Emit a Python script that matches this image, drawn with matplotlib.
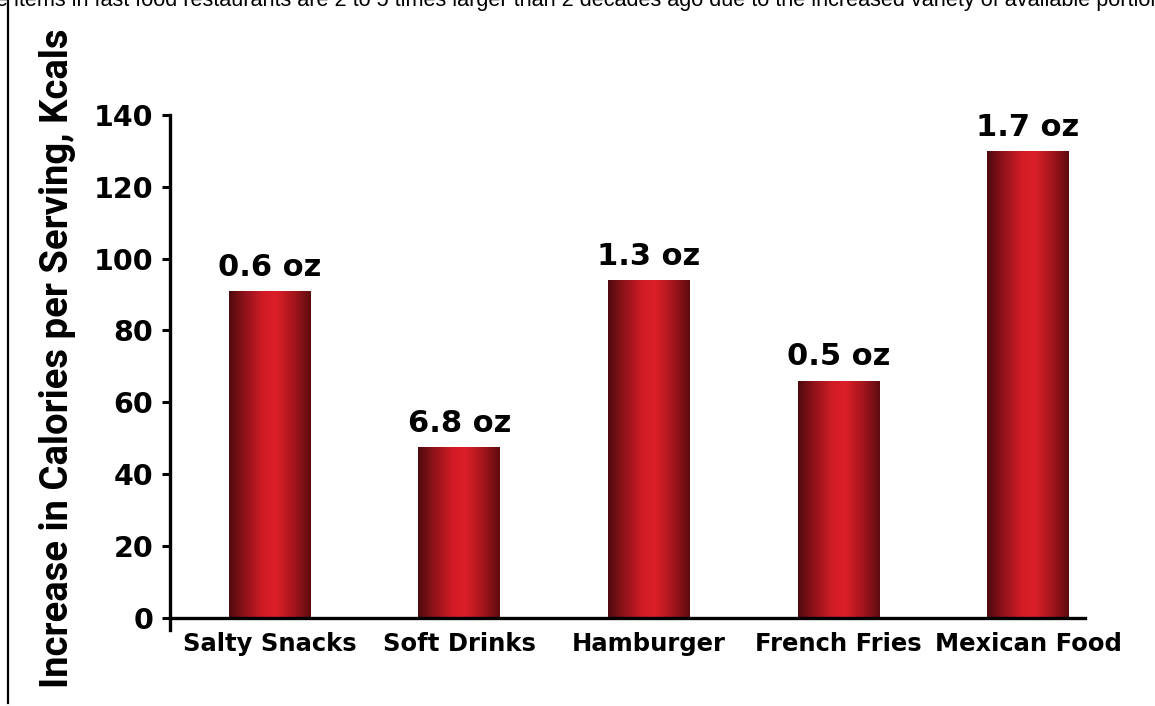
import matplotlib
matplotlib.use("Agg")
import matplotlib.pyplot as plt
import numpy as np
from matplotlib.colors import LinearSegmentedColormap
from matplotlib.lines import Line2D

categories = ["Salty Snacks", "Soft Drinks", "Hamburger", "French Fries", "Mexican Food"]
kcal_increase = [91, 47.5, 94, 66, 130]
portion_labels = ["0.6 oz", "6.8 oz", "1.3 oz", "0.5 oz", "1.7 oz"]
y_ticks = [0, 20, 40, 60, 80, 100, 120, 140]
y_label = "Increase in Calories per Serving, Kcals"
top_text = ("e items in fast food restaurants are 2 to 5 times larger than 2 decades ago "
            "due to the increased variety of available portion")

W, H = 1155, 706
fig = plt.figure(figsize=(W / 100, H / 100), dpi=100)
fig.patch.set_facecolor("white")

heavy_family = ["DejaVu Sans"]

ax = fig.add_axes([170 / W, 1 - 630 / H, (1085 - 170) / W, (630 - 115) / H])
ax.spines["top"].set_visible(False)
ax.spines["right"].set_visible(False)
ax.spines["left"].set_linewidth(2.4)
ax.spines["bottom"].set_linewidth(2.4)
ax.spines["bottom"].set_position(("data", 0))
ax.set_facecolor("white")

x = np.arange(len(categories))
bars = ax.bar(x, kcal_increase, width=0.43, color="none", edgecolor="none", zorder=2)

grad = LinearSegmentedColormap.from_list(
    "barred",
    [(0.0, "#4e0a0e"), (0.18, "#8c1219"), (0.42, "#d11c25"),
     (0.58, "#dc1f28"), (0.80, "#a3151c"), (1.0, "#5e0c10")])
g = np.linspace(0, 1, 256).reshape(1, -1)
for b in bars:
    x0, y0 = b.get_x(), b.get_y()
    w, h = b.get_width(), b.get_height()
    im = ax.imshow(g, cmap=grad, aspect="auto", extent=(x0, x0 + w, y0, y0 + h),
                   zorder=2, interpolation="bilinear")
    im.set_clip_path(b)

for b, lab in zip(bars, portion_labels):
    ax.annotate(lab, (b.get_x() + b.get_width() / 2, b.get_height()),
                xytext=(0, 11), textcoords="offset points", ha="center", va="baseline",
                fontsize=22, color="black", family=heavy_family, weight="bold")

ax.set_xlim(-0.525, 4.30)
ax.set_ylim(-3.4, 140)
ax.set_yticks(y_ticks)
ax.set_yticklabels([str(t) for t in y_ticks], fontsize=20.5, family=heavy_family,
                   weight="bold")
ax.set_xticks(x)
ax.set_xticklabels(categories, fontsize=17.5, family=heavy_family, weight="bold")
ax.tick_params(axis="x", length=0, pad=10)
ax.tick_params(axis="y", length=6, width=2.2, pad=6, direction="out")

fig.text(58 / W, 1 - 358 / H, y_label, rotation=90, ha="center", va="center",
         fontsize=27.5, family=["Roboto", "DejaVu Sans"],
         weight="bold", color="black")

fig.text(-4 / W, 1 - 6 / H, top_text, ha="left", va="baseline", fontsize=15.6,
         family=["Liberation Sans", "DejaVu Sans"], color="black")

fig.add_artist(Line2D([7.5 / W, 7.5 / W], [0.004, 1], transform=fig.transFigure,
                      color="black", linewidth=1.6))

fig.savefig("out.png", dpi=100, facecolor="white")
